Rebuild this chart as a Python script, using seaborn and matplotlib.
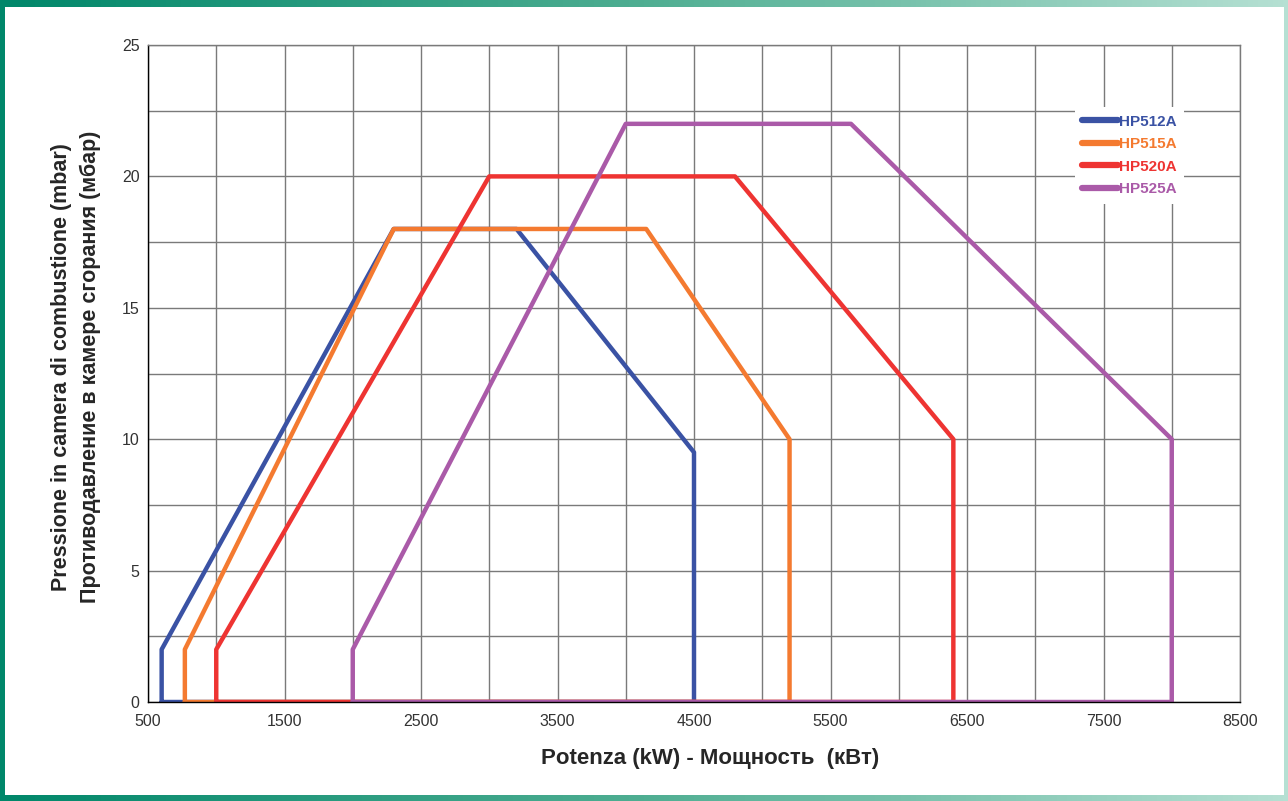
import numpy as np
import pandas as pd
import matplotlib
matplotlib.use("Agg")
import matplotlib.pyplot as plt
import seaborn as sns
from matplotlib.colors import LinearSegmentedColormap

models = ["HP512A", "HP515A", "HP520A", "HP525A"]
power_512 = [600, 600, 2300, 3200, 4500, 4500, 600]
press_512 = [0, 2, 18, 18, 9.5, 0, 0]
power_515 = [770, 770, 2300, 4150, 5200, 5200, 770]
press_515 = [0, 2, 18, 18, 10, 0, 0]
power_520 = [1000, 1000, 3000, 4800, 6400, 6400, 1000]
press_520 = [0, 2, 20, 20, 10, 0, 0]
power_525 = [2000, 2000, 4000, 5650, 8000, 8000, 2000]
press_525 = [0, 2, 22, 22, 10, 0, 0]
x_ticks = [500, 1500, 2500, 3500, 4500, 5500, 6500, 7500, 8500]
y_ticks = [0, 5, 10, 15, 20, 25]

colors = {"HP512A": "#3a52a4", "HP515A": "#f47a30", "HP520A": "#ee3432", "HP525A": "#aa5aa8"}

rows = []
for m, xs, ys in zip(models, [power_512, power_515, power_520, power_525],
                     [press_512, press_515, press_520, press_525]):
    for i, (x, y) in enumerate(zip(xs, ys)):
        rows.append({"model": m, "order": i, "power": x, "pressure": y})
df = pd.DataFrame(rows)

sns.set_style("white")
plt.rcParams['font.family'] = ['Liberation Sans', 'DejaVu Sans']

fig = plt.figure(figsize=(12.88, 8.01), dpi=100)

# gradient frame
bg = fig.add_axes([0, 0, 1, 1], zorder=-10)
cmap = LinearSegmentedColormap.from_list("fr", ["#00876a", "#4fae92", "#b5e0d3"])
grad = np.linspace(0, 1, 256).reshape(1, -1)
bg.imshow(grad, aspect="auto", cmap=cmap, extent=[0, 1, 0, 1])
bg.add_patch(plt.Rectangle((5 / 1288, 6 / 801), (1284 - 5) / 1288, (794 - 6) / 801,
                           facecolor="white", edgecolor="none"))
bg.set_xlim(0, 1); bg.set_ylim(0, 1)
bg.axis("off")

ax = fig.add_axes([148 / 1288, 1 - 702 / 801, (1240 - 148) / 1288, (702 - 45) / 801])
sns.lineplot(data=df, x="power", y="pressure", hue="model", palette=colors,
             sort=False, estimator=None, units="model", linewidth=3.2, ax=ax,
             hue_order=models)

ax.set_xlim(500, 8500)
ax.set_ylim(0, 25)
ax.set_xticks(x_ticks)
ax.set_xticks([1000, 2000, 3000, 4000, 5000, 6000, 7000, 8000], minor=True)
ax.set_yticks(y_ticks)
ax.set_yticks([2.5, 7.5, 12.5, 17.5, 22.5], minor=True)
ax.grid(True, which="both", color="#7a7a7a", linewidth=1)
ax.set_axisbelow(True)
ax.tick_params(axis="both", which="major", labelsize=11.5, labelcolor="#333333",
               direction="inout", length=6, color="black", width=1)
ax.tick_params(axis="both", which="minor", length=0)
ax.tick_params(axis="x", which="major", direction="out", length=4, pad=5)
ax.tick_params(axis="y", which="major", pad=3)
for s in ["left", "bottom"]:
    ax.spines[s].set_color("black")
    ax.spines[s].set_linewidth(1)
for s in ["top", "right"]:
    ax.spines[s].set_color("#7a7a7a")
    ax.spines[s].set_linewidth(1)

ax.set_xlabel("Potenza (kW) - Мощность  (кВт)", fontsize=16, fontweight="bold",
              labelpad=13, x=0.515)
ax.set_ylabel("Pressione in camera di combustione (mbar)\nПротиводавление в камере сгорания (мбар)",
              fontsize=15.5, fontweight="bold", labelpad=15, linespacing=1.5, y=0.51)

leg = ax.legend(loc="upper right", bbox_to_anchor=(0.956, 0.917), frameon=True,
                prop={"weight": "bold", "size": 11}, labelcolor="linecolor",
                handlelength=2.3, handletextpad=0.1, borderpad=0.5, labelspacing=0.55,
                fancybox=False)
leg.get_frame().set_facecolor("white")
leg.get_frame().set_edgecolor("none")
leg.get_frame().set_alpha(1)
for line in leg.get_lines():
    line.set_linewidth(4.5)

fig.savefig("out.png", dpi=100)
